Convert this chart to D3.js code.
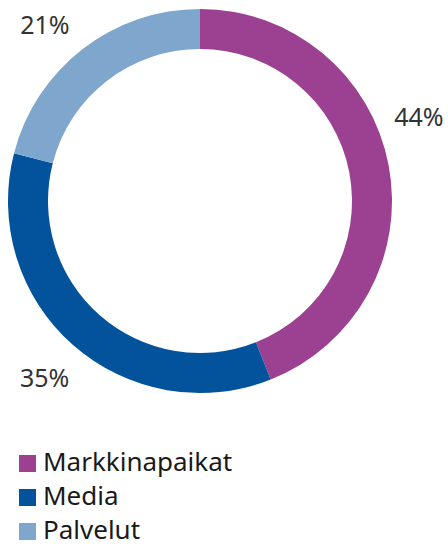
<!DOCTYPE html>
<html>
<head>
<meta charset="utf-8">
<script src="https://cdn.jsdelivr.net/npm/d3@7"></script>
<style>
    body { margin: 0; padding: 0; background: #fff; }
    text { font-family: "Noto Sans", sans-serif; }
</style>
</head>
<body>
<div id="chart"></div>
<script>
// data
var categories = ["Markkinapaikat", "Media", "Palvelut"];
var shares = [44, 35, 21];
var colors = ["#9c4192", "#03529c", "#7fa7cd"];

var width = 448, height = 548;
var cx = 200, cy = 201;
var outerR = 192, innerR = 152;
var labelR = 235;

var svg = d3.select("#chart").append("svg")
    .attr("width", width)
    .attr("height", height);

var data = categories.map(function(c, i){
    return { name: c, value: shares[i], color: colors[i] };
});

var pie = d3.pie()
    .sort(null)
    .value(function(d){ return d.value; });

var arc = d3.arc()
    .innerRadius(innerR)
    .outerRadius(outerR);

var g = svg.append("g")
    .attr("transform", "translate(" + cx + "," + cy + ")");

var arcs = pie(data);

g.selectAll("path")
    .data(arcs)
    .enter()
    .append("path")
    .attr("d", arc)
    .attr("fill", function(d){ return d.data.color; });

// percent labels: put at slice middle, slide along the circle until inside the page
function labelPos(a, halfW, halfH){
    var best = null;
    for (var k = 0; k < 720; k++){
        var off = (k % 2 == 0 ? 1 : -1) * Math.ceil(k / 2) * Math.PI / 360;
        var t = a + off;
        var x = cx + labelR * Math.sin(t);
        var y = cy - labelR * Math.cos(t);
        if (x - halfW >= 4 && x + halfW <= width - 4 && y - halfH >= 15){
            best = [x, y];
            break;
        }
    }
    return best;
}

arcs.forEach(function(d){
    var t = svg.append("text")
        .text(d.data.value + "%")
        .attr("text-anchor", "middle")
        .attr("dominant-baseline", "central")
        .attr("fill", "#333333")
        .style("font-size", "25px");
    var w = t.node().getComputedTextLength();
    var p = labelPos((d.startAngle + d.endAngle) / 2, w / 2, 9);
    t.attr("x", p[0]).attr("y", p[1]);
});

// legend
var legend = svg.append("g")
    .attr("transform", "translate(19,455)");

var item = legend.selectAll("g")
    .data(data)
    .enter()
    .append("g")
    .attr("transform", function(d, i){ return "translate(0," + (i * 34) + ")"; });

item.append("rect")
    .attr("width", 17)
    .attr("height", 17)
    .attr("fill", function(d){ return d.color; });

item.append("text")
    .text(function(d){ return d.name; })
    .attr("x", 24)
    .attr("y", 16)
    .attr("fill", "#1a1a1a")
    .style("font-size", "26px");
</script>
</body>
</html>
